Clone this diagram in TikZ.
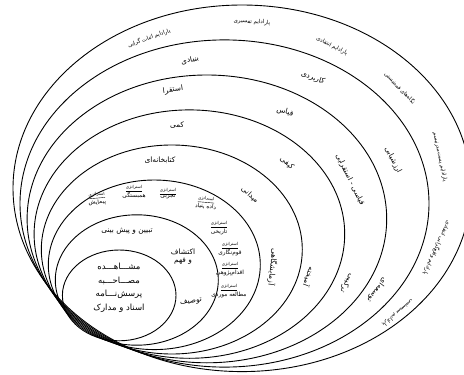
\documentclass[tikz,border=0pt]{standalone}
\usepackage{fontspec}
\newfontfamily\arabicfont[Script=Arabic]{DejaVu Sans}
\TeXXeTstate=1
\newcommand{\pers}[1]{{\arabicfont\beginR #1\endR}}
\newcommand{\strat}[1]{{\fontsize{4.2}{5}\selectfont\underline{\pers{استراتژی}}}\\\pers{#1}}

\begin{document}
\begin{tikzpicture}[x=1pt, y=-1pt,
    ring/.style={line width=0.9pt},
    lab/.style={inner sep=0pt, font=\fontsize{7.4}{8}\selectfont},
    para/.style={inner sep=0pt, font=\fontsize{5.5}{6}\selectfont},
    stratbox/.style={inner sep=0pt, align=center, font=\fontsize{5.8}{6.2}\selectfont}]
        \useasboundingbox (0,0) rectangle (464,375);
        \clip (0,0) rectangle (464,375);
        % layers of the onion, outer to inner
        \draw[ring] (242.0,188.3) ellipse [x radius=229.0, y radius=183.3];
        \draw[ring] (224.5,203.5) ellipse [x radius=204.5, y radius=163.6];
        \draw[ring] (206.9,218.9) ellipse [x radius=179.8, y radius=143.9];
        \draw[ring] (189.4,234.1) ellipse [x radius=155.3, y radius=124.2];
        \draw[ring] (171.8,249.5) ellipse [x radius=130.5, y radius=104.5];
        \draw[ring] (154.3,264.8) ellipse [x radius=106.0, y radius=84.8];
        \draw[ring] (136.8,280.0) ellipse [x radius=81.5, y radius=65.2];
        \draw[ring] (119.2,295.4) ellipse [x radius=56.8, y radius=45.4];
        % paradigms
        \node[para, rotate=20] (pos) at (149,38) {\pers{پارادایم اثبات گرایی}};
        \node[para, rotate=-3] (interp) at (252,22) {\pers{پارادایم تفسیری}};
        \node[para, rotate=-27] (crit) at (332,46) {\pers{پارادایم انتقادی}};
        \node[para, rotate=-46] (fem) at (400,88) {\pers{نگاه‌های فمینیستی}};
        \node[para, rotate=-78] (postmod) at (440,157) {\pers{پارادایم پست‌مدرنیسم}};
        \node[para, rotate=-114] (realism) at (437,248) {\pers{پارادایم واقع‌گرایی انتقادی}};
        \node[para, rotate=-140] (system) at (398,313) {\pers{پارادایم سیستمی}};
        % purpose
        \node[lab, rotate=12] (basic) at (190,60) {\pers{بنیادی}};
        \node[lab, rotate=-20] (applied) at (313,78) {\pers{کاربردی}};
        \node[lab, rotate=-63] (evalu) at (393,160) {\pers{ارزشیابی}};
        \node[lab, rotate=-127] (devel) at (377,290) {\pers{توسعه‌ای}};
        % reasoning
        \node[lab, rotate=8] (induct) at (173,90) {\pers{استقرا}};
        \node[lab, rotate=-15] (deduct) at (285,112) {\pers{قیاس}};
        \node[lab, rotate=-64] (inddec) at (350,180) {\pers{قیاسی - استقرایی}};
        \node[lab, rotate=-120] (combo) at (347,283) {\pers{ترکیبی}};
        % data type
        \node[lab, rotate=3] (quant) at (177,125) {\pers{کمی}};
        \node[lab, rotate=-40] (qual) at (287,163) {\pers{کیفی}};
        \node[lab, rotate=-110] (mixed) at (309,277) {\pers{آمیخته}};
        % setting
        \node[lab] (library) at (160,160) {\pers{کتابخانه‌ای}};
        \node[lab, rotate=-42] (field) at (250,195) {\pers{میدانی}};
        \node[lab, rotate=-96] (lab) at (273,267) {\pers{آزمایشگاهی}};
        % strategies
        \node[stratbox, rotate=5] (survey) at (97,199) {\strat{پیمایش}};
        \node[stratbox] (correl) at (134,192) {\strat{همبستگی}};
        \node[stratbox] (exper) at (168,194) {\strat{تجربی}};
        \node[stratbox, rotate=-5] (ground) at (206,203) {\strat{داده بنیاد}};
        \node[stratbox] (hist) at (219,228) {\strat{تاریخی}};
        \node[stratbox] (ethno) at (230,249) {\strat{قوم‌نگاری}};
        \node[stratbox] (action) at (230,269) {\strat{اقدام‌پژوهی}};
        \node[stratbox] (case) at (229,291) {\strat{مطالعه موردی}};
        % aims
        \node[lab] (explain) at (127,231) {\pers{تبیین و پیش بینی}};
        \node[lab, align=center] (explore) at (183,257) {\pers{اکتشاف}\\\pers{و فهم}};
        \node[lab, rotate=10] (describe) at (191,302) {\pers{توصیف}};
        % data collection
        \node[inner sep=0pt, align=center, font=\fontsize{8.5}{13.5}\selectfont] (tools) at (119,288)
          {\pers{مشـــاهـــده}\\\pers{مصـــاحـــبه}\\\pers{پرسش‌نـــامه}\\\pers{اسناد و مدارک}};
\end{tikzpicture}
\end{document}
